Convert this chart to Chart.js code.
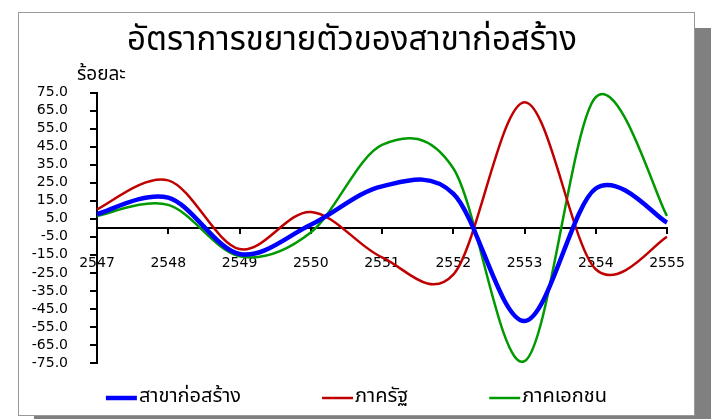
<!DOCTYPE html>
<html>
<head>
<meta charset="utf-8">
<script src="https://cdn.jsdelivr.net/npm/chart.js@4.4.0/dist/chart.umd.min.js"></script>
<style>
  body { margin: 0; background: #fff; }
  .frame {
    position: absolute; left: 18px; top: 12px;
    width: 677px; height: 404px; box-sizing: border-box;
    border: 1px solid #999; background: #fff;
    box-shadow: 16px 16px 0 #808080;
  }
  canvas { display: block; }
</style>
</head>
<body>
<div class="frame"><canvas id="lineChart" width="675" height="402"></canvas></div>
<script>
const lineChart = document.getElementById('lineChart');

const thaiFont = "'Noto Sans Thai', 'Noto Sans Thai UI', Tahoma, 'Noto Sans', sans-serif";
const numFont = "'DejaVu Sans', Verdana, sans-serif";

// ข้อมูล
const years = ['2547', '2548', '2549', '2550', '2551', '2552', '2553', '2554', '2555'];
const construction = [7.6, 16.7, -14.5, 1.7, 23.0, 19.0, -51.7, 21.8, 2.9];
const publicSector = [10.3, 26.3, -11.8, 8.8, -16.4, -26.0, 69.6, -23.0, -5.0];
const privateSector = [6.6, 12.7, -15.8, -2.6, 46.0, 33.0, -74.0, 72.5, 6.6];
const seriesNames = ['สาขาก่อสร้าง', 'ภาครัฐ', 'ภาคเอกชน'];
const yTicks = { min: -75, max: 75, step: 10 };
const unitLabel = 'ร้อยละ';

// เส้นโค้งแบบ Excel (control point = 1/6 ของจุดข้างเคียง)
const smoothLinePlugin = {
  id: 'smoothLine',
  beforeDatasetDraw(chart, args) {
    const meta = args.meta;
    meta.dataset.updateControlPoints(chart.chartArea, meta.indexAxis);
    const pts = meta.data;
    pts.forEach((p, i) => {
      const prev = pts[i - 1] || p;
      const next = pts[i + 1] || p;
      const dx = (next.x - prev.x) / 6;
      const dy = (next.y - prev.y) / 6;
      p.cp1x = p.x - dx;
      p.cp1y = p.y - dy;
      p.cp2x = p.x + dx;
      p.cp2y = p.y + dy;
    });
  }
};

// เลื่อนชื่อกราฟไปทางขวาเล็กน้อย
const titleShiftPlugin = {
  id: 'titleShift',
  afterLayout(chart) {
    if (chart.titleBlock) chart.titleBlock.left += 18;
  }
};

// ชื่อแกน y
const unitLabelPlugin = {
  id: 'unitLabel',
  afterDraw(chart) {
    const { ctx, chartArea } = chart;
    ctx.save();
    ctx.font = '19px ' + thaiFont;
    ctx.fillStyle = '#000';
    ctx.textBaseline = 'middle';
    ctx.fillText(unitLabel, chartArea.left - 20, chartArea.top - 16);
    ctx.restore();
  }
};

// legend ด้านล่าง
const bottomLegendPlugin = {
  id: 'bottomLegend',
  afterDraw(chart) {
    const { ctx } = chart;
    const lineLen = 31;
    const gap = 81;
    ctx.save();
    ctx.font = '20px ' + thaiFont;
    const items = chart.data.datasets.map(ds => ({
      ds, w: lineLen + 2 + ctx.measureText(ds.label).width
    }));
    const total = items.reduce((acc, it) => acc + it.w, 0) + gap * (items.length - 1);
    let x = (chart.width - total) / 2;
    const y = chart.height - 17;
    items.forEach(it => {
      ctx.strokeStyle = it.ds.borderColor;
      ctx.lineWidth = it.ds.borderWidth;
      ctx.beginPath();
      ctx.moveTo(x, y);
      ctx.lineTo(x + lineLen, y);
      ctx.stroke();
      ctx.fillStyle = '#000';
      ctx.textBaseline = 'middle';
      ctx.fillText(it.ds.label, x + lineLen + 2, y);
      x += it.w + gap;
    });
    ctx.restore();
  }
};

new Chart(lineChart, {
  type: 'line',
  data: {
    labels: years,
    datasets: [
      { label: seriesNames[0], data: construction, borderColor: '#0000ff', borderWidth: 4.5 },
      { label: seriesNames[1], data: publicSector, borderColor: '#c00000', borderWidth: 2.5 },
      { label: seriesNames[2], data: privateSector, borderColor: '#009900', borderWidth: 2.5 }
    ]
  },
  options: {
    responsive: false,
    animation: false,
    layout: { padding: { right: 27, bottom: 52 } },
    elements: {
      line: { tension: 0.3, fill: false, capBezierPoints: false },
      point: { radius: 0 }
    },
    plugins: {
      legend: { display: false },
      tooltip: { enabled: false },
      title: {
        display: true,
        text: 'อัตราการขยายตัวของสาขาก่อสร้าง',
        color: '#000',
        font: { family: thaiFont, size: 33, weight: 'normal' },
        padding: { top: 11, bottom: 29 }
      }
    },
    scales: {
      x: {
        position: { y: 0 },
        offset: false,
        afterFit(scale) { scale.paddingLeft = 0; scale.paddingRight = 0; },
        border: { display: true, color: '#000', width: 2 },
        grid: { drawOnChartArea: false, color: '#000', lineWidth: 2, tickLength: 5 },
        ticks: { color: '#000', padding: 22, maxRotation: 0, font: { family: numFont, size: 14 } }
      },
      y: {
        min: yTicks.min,
        max: yTicks.max,
        afterFit(scale) { scale.width = 78; },
        border: { display: true, color: '#000', width: 2 },
        grid: { drawOnChartArea: false, color: '#000', lineWidth: 2, tickLength: 7 },
        ticks: {
          stepSize: yTicks.step,
          autoSkip: false,
          color: '#000',
          padding: 22,
          font: { family: numFont, size: 14 },
          callback: v => v.toFixed(1)
        }
      }
    }
  },
  plugins: [smoothLinePlugin, titleShiftPlugin, unitLabelPlugin, bottomLegendPlugin]
});
</script>
</body>
</html>
